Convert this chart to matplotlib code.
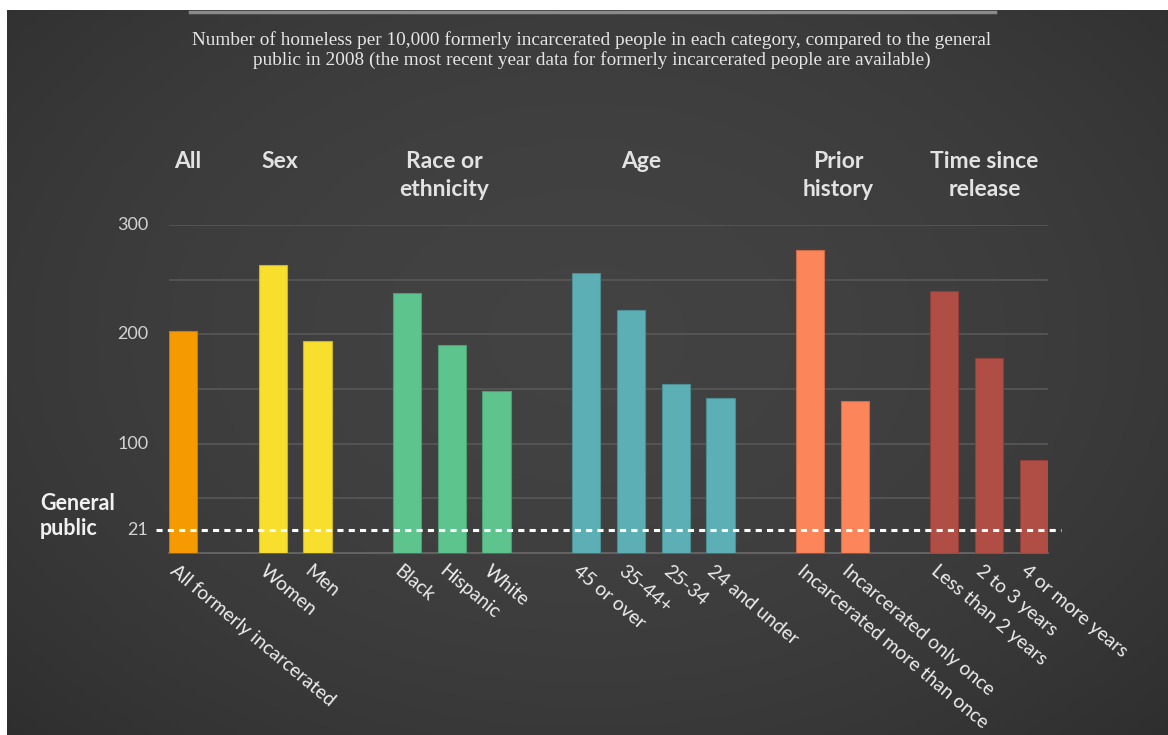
import numpy as np
import matplotlib
matplotlib.use("Agg")
import matplotlib.pyplot as plt
from matplotlib import transforms

# data
labels = ["All formerly incarcerated", "", "Women", "Men", "",
          "Black", "Hispanic", "White", "",
          "45 or over", "35-44+", "25-34", "24 and under", "",
          "Incarcerated more than once", "Incarcerated only once", "",
          "Less than 2 years", "2 to 3 years", "4 or more years"]
values = [203, 0, 263, 194, 0,
          238, 190, 148, 0,
          256, 222, 155, 142, 0,
          277, 139, 0,
          240, 178, 85]
groups = ["all", None, "sex", "sex", None,
          "race", "race", "race", None,
          "age", "age", "age", "age", None,
          "prior", "prior", None,
          "time", "time", "time"]
general_public = 21

group_colors = {"all": "#F59A00", "sex": "#F8DE2D", "race": "#5EC48E",
                "age": "#5DAFB6", "prior": "#FC8559", "time": "#B04E45"}
edge_colors = {"all": "#c87d00", "sex": "#c9b425", "race": "#4c9f73",
               "age": "#4b8e94", "prior": "#cd6c48", "time": "#8f3f38"}

headers = ["All", "Sex", "Race or\nethnicity", "Age", "Prior\nhistory", "Time since\nrelease"]
header_x = [0.11, 2.17, 5.83, 10.24, 14.64, 17.9]

fig = plt.figure(figsize=(11.68, 7.35), dpi=100)
fig.patch.set_facecolor("white")

# background with a soft radial gradient
bg = fig.add_axes([7 / 1168, 0, 1 - 7 / 1168, 1 - 10 / 735])
yy, xx = np.mgrid[0:1:300j, 0:1:480j]
r = np.sqrt(((xx - 0.5) / 0.75) ** 2 + ((yy - 0.45) / 0.85) ** 2)
shade = np.clip(0.26 - 0.09 * r ** 2, 0.17, 0.26)
bg.imshow(np.dstack([shade] * 3), aspect="auto", extent=[0, 1, 0, 1], interpolation="bilinear")
bg.set_axis_off()

# top rule
fig.add_artist(plt.Line2D([190 / 1168, 995 / 1168], [1 - 11.5 / 735] * 2,
                          color="#8a8a8a", lw=2.5))

fig.text(592 / 1168, 1 - 50 / 735,
         "Number of homeless per 10,000 formerly incarcerated people in each category, compared to the general\n"
         "public in 2008 (the most recent year data for formerly incarcerated people are available)",
         ha="center", va="center", color="#e6e6e6", fontsize=13.9,
         family="Liberation Serif", linespacing=1.1)

ax = fig.add_axes([169 / 1168, 1 - 553 / 735, (1048 - 169) / 1168, (553 - 225) / 735])
ax.set_facecolor("none")

x = np.arange(len(values))
for xi, v, g in zip(x, values, groups):
    if g is None:
        continue
    ax.bar(xi, v, width=0.63, color=group_colors[g], edgecolor=edge_colors[g],
           linewidth=0.8, zorder=3)

ax.set_xlim(-0.315, len(values) - 1 + 0.315)
ax.set_ylim(0, 300)
ax.set_yticks(range(50, 301, 50))
ax.yaxis.grid(True, color="#585858", lw=1.2, zorder=0)
ax.tick_params(axis="y", length=0, labelleft=False)
ax.tick_params(axis="x", length=0, labelbottom=False)
for s in ["top", "right", "left"]:
    ax.spines[s].set_visible(False)
ax.spines["bottom"].set_color("#6a6a6a")
ax.spines["bottom"].set_linewidth(1.2)

# y labels
for yv in [300, 200, 100, general_public]:
    ax.text(-0.78, yv, str(yv), ha="right", va="center", color="#d2d2d2",
            fontsize=13, family="Lato")

# general public line
ax.plot([-0.6, 19.6], [general_public] * 2, color="white", lw=2.2,
        ls=(0, (2, 1.7)), clip_on=False, zorder=4)
fig.text(40 / 1168, 1 - 516 / 735, "General\npublic", ha="left", va="center",
         color="#f0f0f0", fontsize=15.5, fontweight="bold", family="Lato",
         linespacing=1.2)

# group headers
for hx, h in zip(header_x, headers):
    ax.text(hx, 1.225, h, transform=transforms.blended_transform_factory(ax.transData, ax.transAxes),
            ha="center", va="top", color="#e2e2e2", fontsize=16.5,
            fontweight="bold", family="Lato", linespacing=1.4)

# rotated category labels
offset = transforms.ScaledTranslation(-5 / 100, -9 / 100, fig.dpi_scale_trans)
for xi, lab in zip(x, labels):
    if not lab:
        continue
    ax.text(xi, 0, lab, transform=ax.transData + offset, rotation=-40,
            rotation_mode="anchor", ha="left", va="top", color="#ececec",
            fontsize=13.9, family="Lato")

fig.savefig("out.png", dpi=100, facecolor=fig.get_facecolor())
